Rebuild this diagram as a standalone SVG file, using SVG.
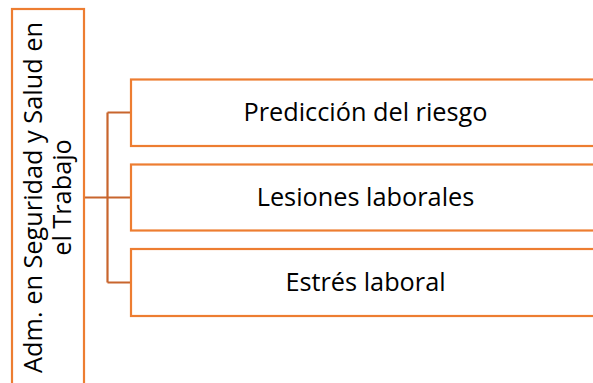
<svg xmlns="http://www.w3.org/2000/svg" width="593" height="383" viewBox="0 0 593 383">
<style>
.box{fill:#fff;stroke:#ED7D31;stroke-width:2.2}
.conn{fill:none;stroke:#C8652D;stroke-width:2.2}
.t{font-family:"Open Sans","Noto Sans",sans-serif;font-size:25.3px;fill:#000;text-anchor:middle}
</style>
<rect width="593" height="383" fill="#fff"/>
<g id="connectors">
<path class="conn" d="M84 197.5H107.5M107.5 112.5V282.5M107.5 112.5H131M107.5 197.5H131M107.5 282.5H131"/>
</g>
<g id="root">
<rect class="box" x="12" y="9" width="72" height="390"/>
<text class="t" transform="translate(41.5 197.5) rotate(-90)" x="0" y="0">Adm. en Seguridad y Salud en</text>
<text class="t" transform="translate(71 197.5) rotate(-90)" x="0" y="0">el Trabajo</text>
</g>
<g id="n1">
<rect class="box" x="131" y="79.5" width="480" height="66.5"/>
<text class="t" x="365.5" y="121">Predicción del riesgo</text>
</g>
<g id="n2">
<rect class="box" x="131" y="164.5" width="480" height="66"/>
<text class="t" x="365.5" y="206">Lesiones laborales</text>
</g>
<g id="n3">
<rect class="box" x="131" y="249" width="480" height="67"/>
<text class="t" x="365.5" y="291">Estrés laboral</text>
</g>
</svg>
